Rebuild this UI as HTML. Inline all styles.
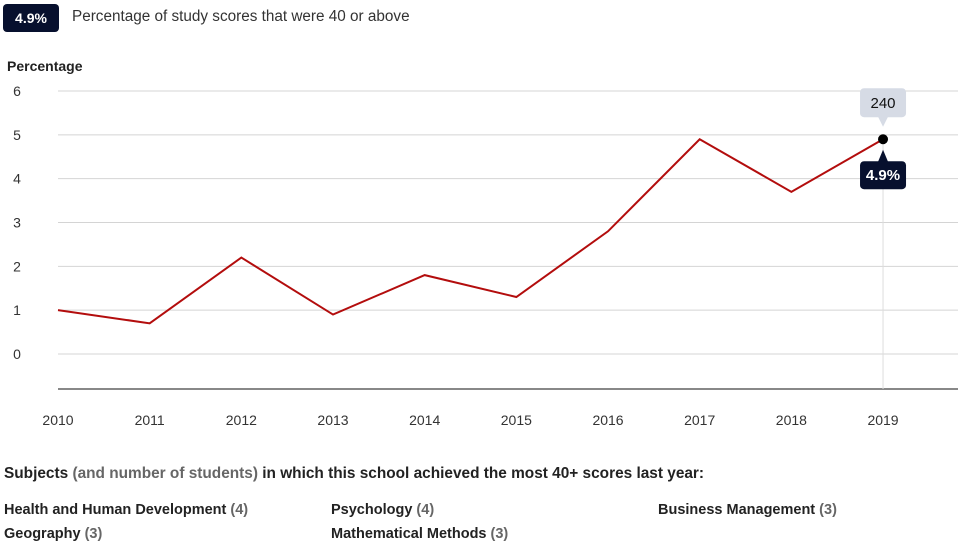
<!DOCTYPE html>
<html><head><meta charset="utf-8"><style>
body{margin:0;width:958px;height:549px;background:#fff;font-family:"Liberation Sans",sans-serif;color:#222;overflow:hidden;position:relative}
.abs{position:absolute}
.badge{left:3px;top:4px;width:56px;height:28px;background:#07102e;color:#fff;font-weight:bold;font-size:14px;line-height:28px;text-align:center;border-radius:4px}
.sub{font-size:14.5px;color:#222}
.sub span{color:#666}
</style></head><body>
<div class="abs badge">4.9%</div>
<div class="abs" style="left:72px;top:8px;font-size:15.3px;color:#333">Percentage of study scores that were 40 or above</div>
<div class="abs" style="left:7px;top:58px;font-size:14px;font-weight:bold">Percentage</div>
<svg class="abs" style="left:0;top:0" width="958" height="440" id="chart"></svg>
<div class="abs" style="left:4px;top:465px;font-size:15.4px;font-weight:bold">Subjects <span style="color:#666">(and number of students)</span> in which this school achieved the most 40+ scores last year:</div>
<div class="abs sub" style="left:4px;top:502px;font-weight:bold">Health and Human Development <span>(4)</span></div>
<div class="abs sub" style="left:331px;top:502px;font-weight:bold">Psychology <span>(4)</span></div>
<div class="abs sub" style="left:658px;top:502px;font-weight:bold">Business Management <span>(3)</span></div>
<div class="abs sub" style="left:4px;top:526px;font-weight:bold">Geography <span>(3)</span></div>
<div class="abs sub" style="left:331px;top:526px;font-weight:bold">Mathematical Methods <span>(3)</span></div>
<script>
const years=[2010,2011,2012,2013,2014,2015,2016,2017,2018,2019];
const values=[1.0,0.7,2.2,0.9,1.8,1.3,2.8,4.9,3.7,4.9];
const yTicks=[0,1,2,3,4,5,6];
const lastCount="240";
const NS="http://www.w3.org/2000/svg";
const svg=document.getElementById('chart');
const x=i=>58+i*91.67;
const y=v=>354-v*43.83;
function mk(t,a){const e=document.createElementNS(NS,t);for(const k in a)e.setAttribute(k,a[k]);svg.appendChild(e);return e;}
yTicks.forEach(t=>{
 const l=mk('line',{x1:58,x2:958,y1:y(t),y2:y(t),stroke:'#d4d4d4','stroke-width':1});
 
 
 const tx=mk('text',{x:17,y:y(t)+5,'text-anchor':'middle','font-size':14,fill:'#333','font-family':'Liberation Sans'});
 tx.textContent=t;
 
 
});
const ax=mk('line',{x1:58,x2:958,y1:389,y2:389,stroke:'#111','stroke-width':1});


years.forEach((yr,i)=>{
 const tx=mk('text',{x:x(i),y:425,'text-anchor':'middle','font-size':14,fill:'#333','font-family':'Liberation Sans'});
 tx.textContent=yr;
 
 
});
const li=values.length-1;
const vl=mk('line',{x1:x(li),x2:x(li),y1:y(values[li]),y2:389,stroke:'#ddd'});


const p=mk('polyline',{points:values.map((v,i)=>x(i)+','+y(v)).join(' '),fill:'none',stroke:'#b30d0d','stroke-width':2});


const px=x(li),py=y(values[li]);
const g1=mk('rect',{x:px-23,y:py-51,width:46,height:29,rx:4,fill:'#d6dbe5'});


const g1p=mk('path',{d:`M${px-5},${py-22.5}l5,10l5,-10z`,fill:'#d6dbe5'});


const t1=mk('text',{x:px,y:py-31,'text-anchor':'middle','font-size':15,fill:'#111','font-family':'Liberation Sans'});
t1.textContent=lastCount;


const g2=mk('rect',{x:px-23,y:py+22,width:46,height:28,rx:4,fill:'#07102e'});


const g2p=mk('path',{d:`M${px-5},${py+22.5}l5,-12l5,12z`,fill:'#07102e'});


const t2=mk('text',{x:px,y:py+41,'text-anchor':'middle','font-size':15,'font-weight':'bold',fill:'#fff','font-family':'Liberation Sans'});
t2.textContent=values[li]+'%';


const c=mk('circle',{cx:px,cy:py,r:5,fill:'#000'});


</script>
</body></html>
